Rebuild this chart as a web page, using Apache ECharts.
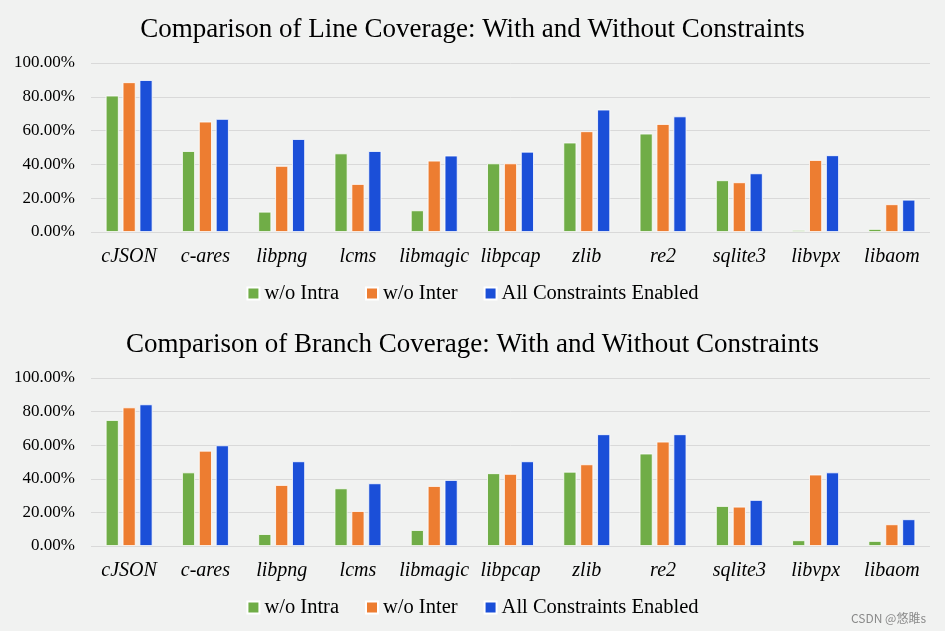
<!DOCTYPE html>
<html><head><meta charset="utf-8">
<script src="https://cdn.jsdelivr.net/npm/echarts@6/dist/echarts.min.js"></script>
<style>html,body{margin:0;padding:0;background:#f1f2f1;}#c{width:945px;height:631px;}</style>
</head><body><div id="c"></div>
<script>
const categories = ['cJSON','c-ares','libpng','lcms','libmagic','libpcap','zlib','re2','sqlite3','libvpx','libaom'];
const seriesNames = ['w/o Intra','w/o Inter','All Constraints Enabled'];
const lineIntra = [80.7,47.9,12.0,46.5,12.8,40.6,52.9,58.2,30.6,1.2,1.8];
const lineInter = [88.6,65.3,39.1,28.4,42.2,40.6,59.6,63.9,29.4,42.6,16.4];
const lineAll   = [89.9,66.9,55.0,47.9,45.2,47.5,72.4,68.4,34.7,45.4,19.1];
const branchIntra = [75.0,43.8,7.1,34.3,9.5,43.3,44.2,55.0,23.8,3.4,3.0];
const branchInter = [82.5,56.7,36.3,20.8,35.7,42.9,48.6,62.1,23.4,42.5,12.9];
const branchAll   = [84.3,59.9,50.4,37.3,39.3,50.4,66.5,66.5,27.4,43.8,15.9];
const yTicks = [0,20,40,60,80,100];
const titles = ['Comparison of Line Coverage: With and Without Constraints','Comparison of Branch Coverage: With and Without Constraints'];
const colors = ['#70ad47','#ed7d31','#1b4fd8'];

const serif = 'Liberation Serif';
const chart = echarts.init(document.getElementById('c'));
function xAx(i){return {type:'category',gridIndex:i,data:categories,
  axisLine:{show:false},axisTick:{show:false},
  axisLabel:{interval:0,fontFamily:serif,fontStyle:'italic',fontSize:20,color:'#000',margin:15}};}
function yAx(i){return {type:'value',gridIndex:i,min:yTicks[0],max:yTicks[yTicks.length-1],interval:yTicks[1]-yTicks[0],
  axisLabel:{fontFamily:serif,fontSize:17,color:'#000',margin:16,formatter:v=>v.toFixed(2)+'%'},
  splitLine:{lineStyle:{color:'#d9d9d9',width:1}},axisLine:{show:false},axisTick:{show:false}};}
function bar(name,data,i,c){return {name:name,type:'bar',xAxisIndex:i,yAxisIndex:i,data:data,
  barWidth:13,barGap:'30%',itemStyle:{color:colors[c],borderColor:'#ffffff',borderWidth:0.8},animation:false};}
const legendCommon = {data:seriesNames,itemWidth:12,itemHeight:12,itemGap:26,icon:'rect',
  textStyle:{fontFamily:serif,fontSize:20.5,color:'#000'},left:'center'};
chart.setOption({
  backgroundColor:'#f1f2f1',
  animation:false,
  title:[
    {text:titles[0],left:'center',top:11,textStyle:{fontFamily:serif,fontSize:27,fontWeight:'normal',color:'#000'}},
    {text:titles[1],left:'center',top:326,textStyle:{fontFamily:serif,fontSize:27,fontWeight:'normal',color:'#000'}},
    {text:'CSDN @悠雎s',right:14,top:607,textStyle:{fontFamily:'Noto Sans CJK SC',fontSize:12,fontWeight:'normal',color:'#8a8a8a'}}
  ],
  legend:[Object.assign({top:278},legendCommon),Object.assign({top:592},legendCommon)],
  grid:[{left:91,right:15,top:63,height:169},{left:91,right:15,top:378,height:168}],
  xAxis:[xAx(0),xAx(1)],
  yAxis:[yAx(0),yAx(1)],
  series:[
    bar(seriesNames[0],lineIntra,0,0),bar(seriesNames[1],lineInter,0,1),bar(seriesNames[2],lineAll,0,2),
    bar(seriesNames[0],branchIntra,1,0),bar(seriesNames[1],branchInter,1,1),bar(seriesNames[2],branchAll,1,2)
  ]
});
</script></body></html>
